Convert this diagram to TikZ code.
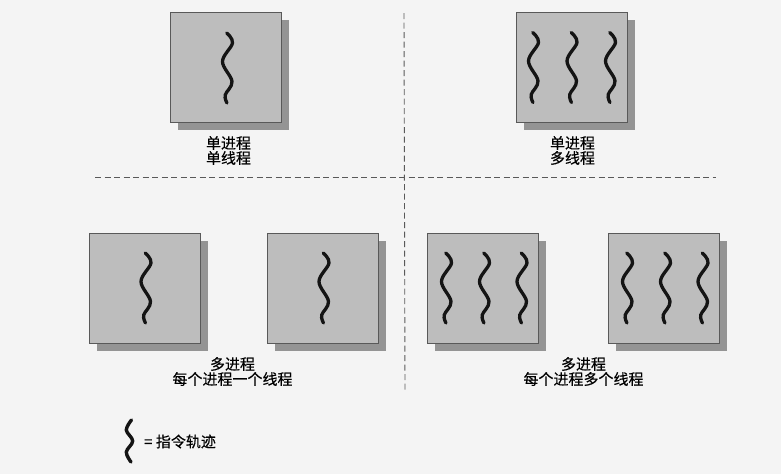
\documentclass[tikz,border=0pt]{standalone}
\usepackage{fontspec}
\newfontfamily\cjk[FakeBold=0.3]{Noto Sans CJK SC}
\begin{document}
\begin{tikzpicture}[x=1pt,y=-1pt,
  procbox/.style={draw=black!65,line width=0.9pt,fill=boxfill,minimum width=111pt,minimum height=110pt,inner sep=0pt},
  shadowbox/.style={fill=shadowfill,draw=none,minimum width=111pt,minimum height=110pt,inner sep=0pt},
  wavestyle/.style={draw=black!92,line width=3.3pt,line cap=round,line join=round},
  lbl/.style={font=\cjk\fontsize{15}{15}\selectfont,align=center,inner sep=0pt,text=black},
  sep/.style={draw=black!65,line width=0.9pt,dash pattern=on 6pt off 3.5pt},
  squig/.pic={\path[wavestyle] plot[smooth,tension=0.6] coordinates {(-0.8,0) (5,10) (-5,28.5) (4.5,48.5) (-2.3,62) (-0.5,70)};},
  minisquig/.pic={\path[wavestyle,line width=3.4pt] plot[smooth,tension=0.6] coordinates {(2,0) (-3.2,10) (3.2,21) (-3.2,32) (1.5,42)};}
]
\definecolor{boxfill}{gray}{0.74}
\definecolor{shadowfill}{gray}{0.58}
\definecolor{bg}{gray}{0.955}
\fill[bg] (0,0) rectangle (781,474);
\useasboundingbox (0,0) rectangle (781,474);

% dashed separators
\coordinate (hl) at (95,177);
\coordinate (hr) at (716,177);
\coordinate (vt) at (404,13);
\coordinate (vb) at (405,392);
\draw[sep] (hl) -- (hr);
\draw[sep] (vt) -- (vb);

% shadows
\foreach \n/\cx/\cy in {stl/225.5/67, str/571.5/67, sba/145/288, sbb/323/288, sbc/483/288, sbd/663.5/288}
  \node[shadowbox] (\n) at (\cx+7.5,\cy+8) {};

% boxes
\node[procbox] (tl) at (225.5,67) {};
\node[procbox] (tr) at (571.5,67) {};
\node[procbox] (ba) at (145,288) {};
\node[procbox] (bb) at (323,288) {};
\node[procbox] (bc) at (483,288) {};
\node[procbox] (bd) at (663.5,288) {};

% waves
\pic at (227.5,33) {squig};
\pic at (533.5,32.5) {squig};
\pic at (572,32.5) {squig};
\pic at (610.5,32.5) {squig};
\pic at (146,253) {squig};
\pic at (324,253) {squig};
\pic at (446.5,253) {squig};
\pic at (484.5,253) {squig};
\pic at (522,253) {squig};
\pic at (627.5,253) {squig};
\pic at (665.5,253) {squig};
\pic at (703,253) {squig};

% labels
\node[lbl] (ltl) at (228.5,150.5) {单进程\\单线程};
\node[lbl] (ltr) at (572.5,150.5) {单进程\\多线程};
\node[lbl] (lbl1) at (232.5,371.5) {多进程\\每个进程一个线程};
\node[lbl] (lbl2) at (583.5,371.5) {多进程\\每个进程多个线程};

% legend
\pic at (129.5,420) {minisquig};
\node[lbl,anchor=west] (legend) at (144,441.5) {= 指令轨迹};
\end{tikzpicture}
\end{document}
